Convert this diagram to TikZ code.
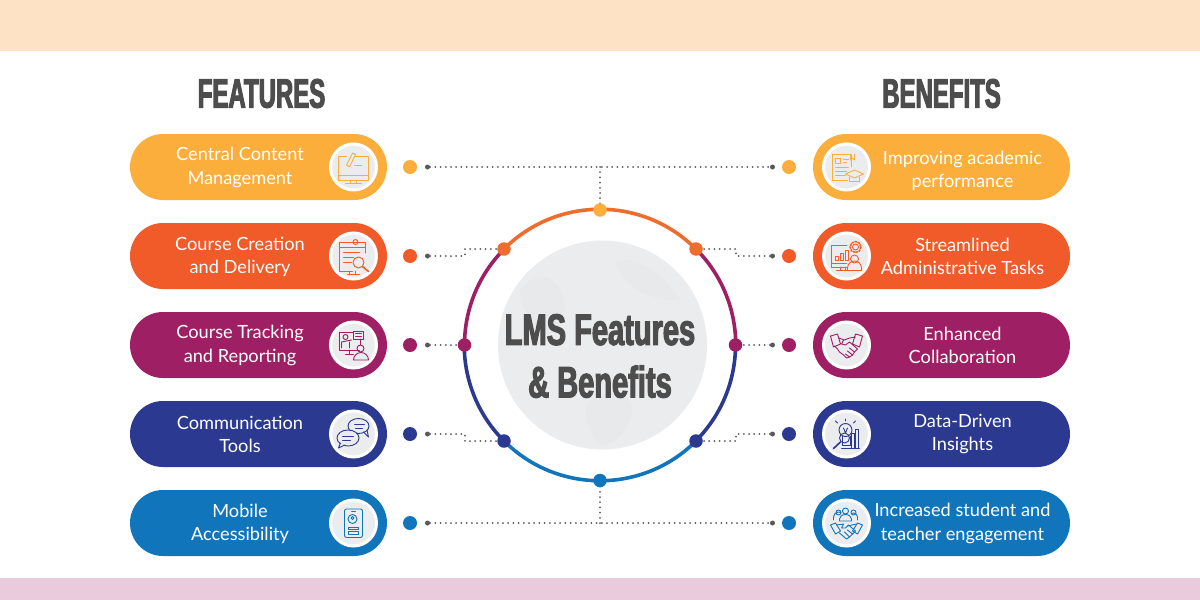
\documentclass[tikz,border=0pt]{standalone}
\usepackage{fontspec}
\usetikzlibrary{shapes.misc}
\setmainfont{Lato}
\newfontfamily\headfont[FakeStretch=0.585,FakeBold=2.6]{Liberation Sans Bold}
\newfontfamily\titlefont[FakeStretch=0.66,FakeBold=2.6]{Liberation Sans Bold}
\definecolor{cAmber}{HTML}{FBAE3C}
\definecolor{cOrange}{HTML}{F15A29}
\definecolor{cRing}{HTML}{EE6C2D}
\definecolor{cCrimson}{HTML}{9E1F63}
\definecolor{cNavy}{HTML}{2B3990}
\definecolor{cBlue}{HTML}{1175BC}
\definecolor{cHead}{HTML}{4D4D4D}
\definecolor{cDots}{HTML}{58595B}
\definecolor{cGlobe}{HTML}{EBECED}
\definecolor{cLand}{HTML}{E8E9EA}
\definecolor{cPeach}{HTML}{FEE2C6}
\definecolor{cPink}{HTML}{E9CBDD}
\begin{document}
\begin{tikzpicture}[x=1pt,y=-1pt,
    pill/.style={rounded rectangle,minimum width=257pt,minimum height=66pt,inner sep=0pt},
    pilltext/.style={text=white,align=center,font=\fontsize{18.2}{23.2}\selectfont,inner sep=0pt},
    icondisc/.style={circle,minimum size=46pt,inner sep=0pt,fill=cGlobe,draw=white,line width=3pt},
    bigdot/.style={circle,minimum size=14pt,inner sep=0pt,fill=#1},
    enddot/.style={circle,minimum size=5pt,inner sep=0pt,fill=cDots},
    dotline/.style={cDots,line width=2pt,line cap=round,dash pattern=on 0pt off 5.2pt},
    ringline/.style={line width=3.6pt},
    headtext/.style={text=cHead,font=\headfont\fontsize{41}{41}\selectfont,inner sep=0pt},
    ico/.style={line width=0.9pt,line join=round,line cap=round}]
    \useasboundingbox (0,0) rectangle (1200,600);
    \fill[cPeach] (0,0) rectangle (1200,51);
    \fill[cPink] (0,578) rectangle (1200,600);

    \node[headtext] (featureshead) at (261.5,93.5) {FEATURES};
    \node[headtext] (benefitshead) at (941.5,93.5) {BENEFITS};

    \node[pill,fill=cAmber] (f1) at (258.5,167) {};
    \node[pill,fill=cOrange] (f2) at (258.5,256) {};
    \node[pill,fill=cCrimson] (f3) at (258.5,345) {};
    \node[pill,fill=cNavy] (f4) at (258.5,434) {};
    \node[pill,fill=cBlue] (f5) at (258.5,523) {};
    \node[pill,fill=cAmber] (b1) at (941.5,167) {};
    \node[pill,fill=cOrange] (b2) at (941.5,256) {};
    \node[pill,fill=cCrimson] (b3) at (941.5,345) {};
    \node[pill,fill=cNavy] (b4) at (941.5,434) {};
    \node[pill,fill=cBlue] (b5) at (941.5,523) {};

    \node[pilltext] (f1t) at (240,167.5) {Central Content\\Management};
    \node[pilltext] (f2t) at (240,256.5) {Course Creation\\and Delivery};
    \node[pilltext] (f3t) at (240,345.5) {Course Tracking\\and Reporting};
    \node[pilltext] (f4t) at (240,434) {Communication\\Tools};
    \node[pilltext] (f5t) at (240,523.5) {Mobile\\Accessibility};
    \node[pilltext] (b1t) at (962.5,170.5) {Improving academic\\performance};
    \node[pilltext] (b2t) at (962.5,256) {Streamlined\\Administrative Tasks};
    \node[pilltext] (b3t) at (962.5,345) {Enhanced\\Collaboration};
    \node[pilltext] (b4t) at (962.5,434) {Data-Driven\\Insights};
    \node[pilltext] (b5t) at (962.5,523.5) {Increased student and\\teacher engagement};

    \node[icondisc] (fi1) at (353.5,167) {};
    \node[icondisc] (fi2) at (353.5,256) {};
    \node[icondisc] (fi3) at (353.5,345) {};
    \node[icondisc] (fi4) at (353.5,434) {};
    \node[icondisc] (fi5) at (353.5,523) {};
    \node[icondisc] (bi1) at (846.5,167) {};
    \node[icondisc] (bi2) at (846.5,256) {};
    \node[icondisc] (bi3) at (846.5,345) {};
    \node[icondisc] (bi4) at (846.5,434) {};
    \node[icondisc] (bi5) at (846.5,523) {};

    \begin{scope}[shift={(fi1)},ico,cAmber]
        \draw (-7,-11) -- (-15,-11) -- (-15,13) -- (15,13) -- (15,-11) -- (2,-11);
        \draw (-15,8) -- (15,8);
        \draw (-3,13) -- (-3,16) (3,13) -- (3,16) (-8,16.5) -- (8,16.5);
        \draw (-7,-2) -- (-1,-14) -- (2,-12.5) -- (-4,0) -- cycle;
        \draw (1,-2) -- (8,-2);
    \end{scope}

    \begin{scope}[shift={(fi2)},ico,cOrange]
        \draw (-1,15) -- (-14,15) -- (-14,-14) -- (12,-14) -- (12,-3);
        \draw (-14,-9) -- (12,-9);
        \draw (-10,-4) -- (6,-4) (-10,1) -- (0,1) (-10,6) -- (-2,6);
        \draw (-4,15) -- (-4,18) (2,15) -- (2,18) (-6,18.5) -- (6,18.5);
        \draw (5,6.5) circle (5.5);
        \draw[line width=1.6pt] (9,10.5) -- (15,15.5);
        \draw (2,-14) circle (2.5);
    \end{scope}

    \begin{scope}[shift={(fi3)},ico,cCrimson]
        \draw (0,-13) -- (-14,-13) -- (-14,5) -- (6,5);
        \draw (-4,5) -- (-4,9) (-8,9.5) -- (0,9.5);
        \draw (0,-14) rectangle (10,-6);
        \draw (2,-11.5) -- (8,-11.5) (2,-8.5) -- (8,-8.5);
        \draw (-8,-8) circle (2.5);
        \draw (-12,3) -- (-12,-3) -- (-2,-5) (-4,3) -- (-4,-3);
        \draw (7,3.5) circle (3.5);
        \draw (7,-6) -- (7,0);
        \draw (0,15) arc[start angle=180,end angle=360,radius=7.5] -- cycle;
    \end{scope}

    \begin{scope}[shift={(fi4)},ico,cNavy]
        \draw (5,-8) circle[x radius=10.5,y radius=7.5];
        \draw (10,-2) -- (15,3) -- (13.5,-4);
        \draw[fill=cGlobe] (-5.5,4) circle[x radius=11,y radius=8];
        \draw[fill=cGlobe] (-13,9) -- (-15,14) -- (-9,11);
        \draw (1,-10) -- (11,-10) (2,-6) -- (9,-6);
        \draw (-11,2) -- (0,2) (-11,6) -- (-3,6);
    \end{scope}

    \begin{scope}[shift={(fi5)},ico,cBlue]
        \draw[rounded corners=2pt] (-9,-14) rectangle (9,14.5);
        \draw (-2,-12) -- (2,-12);
        \draw (-1,-4) circle (4.5);
        \draw (-1,-5) circle (1.5);
        \draw (-5,4) rectangle (5,6.5);
        \draw (-5,8.5) rectangle (5,11);
    \end{scope}

    \begin{scope}[shift={(bi1)},ico,cAmber]
        \draw (1,13) -- (-14,13) -- (-14,-13) -- (5,-13) -- (5,0);
        \draw (-11,-9) rectangle (-6,-4);
        \draw (-3,-8) -- (2,-8) (-3,-5) -- (0,-5);
        \draw (-11,0) -- (2,0) (-11,4) -- (0,4) (-11,8) -- (-1,8);
        \draw[fill=cGlobe] (-1,7) -- (8,3) -- (17,7) -- (8,11) -- cycle;
        \draw (3,10) -- (3,14) -- (13,14) -- (13,10);
        \draw (4,-13) -- (4,-7) -- (6,-9) -- (8,-7) -- (8,-13);
    \end{scope}

    \begin{scope}[shift={(bi2)},ico,cOrange]
        \draw (0,-11) -- (-15,-11) -- (-15,11) -- (0,11);
        \draw (-15,7) -- (0,7);
        \draw (-6,11) -- (-6,14) (-1,11) -- (-1,14) (-10,14.5) -- (3,14.5);
        \draw (-11,4) rectangle (-8,0) (-6,4) rectangle (-3,-3) (-1,4) rectangle (2,-6);
        \draw (9,-9) circle (3);
        \draw[line width=1.5pt,dash pattern=on 1.6pt off 1.5pt] (9,-9) circle (5.5);
        \draw (8,3) circle (4);
        \draw (1,14.5) -- (1,12) arc[start angle=180,end angle=360,radius=7] -- (15,14.5) -- cycle;
    \end{scope}

    \begin{scope}[shift={(bi3)},ico,cCrimson]
        \draw (-16,-9) -- (-9,-11) -- (-6,-1) -- (-13,2) -- cycle;
        \draw (16,-9) -- (9,-11) -- (6,-1) -- (13,2) -- cycle;
        \draw (-8,-7) -- (-2,-5) -- (3,-7) -- (9,-8);
        \draw (-3,-5) -- (-5,-1) -- (-1,0) -- (3,-3) -- (11,4) -- (8,7) -- (6,10) -- (3,12) -- (0,13) -- (-3,10) -- (-7,7) -- (-9,4) -- (-12,1);
        \draw (8,7) -- (3,3) (6,10) -- (1,6) (3,12) -- (-1,9);
    \end{scope}

    \begin{scope}[shift={(bi4)},ico,cNavy]
        \draw (-1,-4) circle (6.5);
        \draw (-4,2) -- (-4,11) -- (4,11) -- (4,2);
        \draw (-1,-13) -- (-1,-15) (-9,-11) -- (-11,-13) (7,-11) -- (9,-13);
        \draw (-3,-6) -- (-1,-1) -- (1,-6);
        \draw (-2,4) circle (5);
        \draw[line width=1.6pt] (-6,8) -- (-13,14.5);
        \draw (5,14) rectangle (8,-1);
        \draw (9,14) rectangle (12,-5);
        \draw (-5,14) -- (13,14);
    \end{scope}

    \begin{scope}[shift={(bi5)},ico,cBlue]
        \draw (-1,-12) circle (3);
        \draw (-8,-10.5) circle (2.5) (7,-10.5) circle (2.5);
        \draw (-7,-2) -- (-7,-4) arc[start angle=180,end angle=360,x radius=6,y radius=4.5] -- (5,-2) -- cycle;
        \draw (-13,-3) -- (-13,-6) arc[start angle=180,end angle=300,radius=5];
        \draw (11,-3) -- (11,-6) arc[start angle=0,end angle=-120,radius=4];
        \draw (-16,2) -- (-11,0) -- (-6,8) -- (-11,11) -- cycle;
        \draw (16,2) -- (11,0) -- (6,8) -- (11,11) -- cycle;
        \draw (-10,2) -- (-3,1) -- (-5,5) -- (-1,5) -- (2,2) -- (9,8) -- (3,14) -- (0,16) -- (-7,10);
        \draw (1,3) -- (10,1);
        \draw (6,11) -- (1,7) (3,14) -- (-2,9);
    \end{scope}

    \node[circle,minimum size=209pt,inner sep=0pt,fill=cGlobe] (globe) at (602.5,345) {};
    \fill[cLand] (520,290) .. controls (550,255) and (575,300) .. (560,325) .. controls (548,345) and (525,330) .. (520,290);
    \fill[cLand] (590,400) .. controls (615,385) and (640,395) .. (630,420) .. controls (620,445) and (600,450) .. (595,440) .. controls (590,430) and (580,415) .. (590,400);
    \fill[cLand] (615,262) .. controls (640,255) and (665,275) .. (680,300) .. controls (650,300) and (625,290) .. (615,262);
    \node[headtext,align=center,font=\titlefont\fontsize{44}{52.5}\selectfont] (title) at (600,356) {LMS Features\\\& Benefits};

    \node[bigdot=cAmber] (fd1) at (410,167) {};
    \node[bigdot=cOrange] (fd2) at (410,256) {};
    \node[bigdot=cCrimson] (fd3) at (410,345) {};
    \node[bigdot=cNavy] (fd4) at (410,434) {};
    \node[bigdot=cBlue] (fd5) at (410,523) {};
    \node[bigdot=cAmber] (bd1) at (789,167) {};
    \node[bigdot=cOrange] (bd2) at (789,256) {};
    \node[bigdot=cCrimson] (bd3) at (789,345) {};
    \node[bigdot=cNavy] (bd4) at (789,434) {};
    \node[bigdot=cBlue] (bd5) at (789,523) {};

    \node[enddot] (fe1) at (427.5,167) {};
    \node[enddot] (fe2) at (427.5,256) {};
    \node[enddot] (fe3) at (427.5,345) {};
    \node[enddot] (fe4) at (427.5,434) {};
    \node[enddot] (fe5) at (427.5,523) {};
    \node[enddot] (be1) at (772.5,167) {};
    \node[enddot] (be2) at (772.5,256) {};
    \node[enddot] (be3) at (772.5,345) {};
    \node[enddot] (be4) at (772.5,434) {};
    \node[enddot] (be5) at (772.5,523) {};

    \coordinate (r1) at (600,210);
    \coordinate (r2) at (696,249);
    \coordinate (r3) at (735.5,345);
    \coordinate (r4) at (696,441);
    \coordinate (r5) at (600,480.5);
    \coordinate (r6) at (504,441);
    \coordinate (r7) at (464.5,345);
    \coordinate (r8) at (504,249);

    \coordinate (top) at (600,167);
    \coordinate (bottom) at (600,523);
    \coordinate (k1) at (465,256);
    \coordinate (k2) at (465,249);
    \coordinate (k3) at (736,256);
    \coordinate (k4) at (736,249);
    \coordinate (k5) at (465,434);
    \coordinate (k6) at (465,441);
    \coordinate (k7) at (736,434);
    \coordinate (k8) at (736,441);

    \draw[dotline] (fe1) -- (be1);
    \draw[dotline] (top) -- (r1);
    \draw[dotline] (fe2) -- (k1) -- (k2) -- (r8);
    \draw[dotline] (be2) -- (k3) -- (k4) -- (r2);
    \draw[dotline] (fe3) -- (r7);
    \draw[dotline] (be3) -- (r3);
    \draw[dotline] (fe4) -- (k5) -- (k6) -- (r6);
    \draw[dotline] (be4) -- (k7) -- (k8) -- (r4);
    \draw[dotline] (fe5) -- (be5);
    \draw[dotline] (bottom) -- (r5);

    \draw[ringline,cRing] (r8) arc[start angle=-135,end angle=-45,radius=135.7];
    \draw[ringline,cCrimson] (r2) arc[start angle=-45,end angle=0,radius=135.7];
    \draw[ringline,cNavy] (r3) arc[start angle=0,end angle=45,radius=135.7];
    \draw[ringline,cBlue] (r4) arc[start angle=45,end angle=135,radius=135.7];
    \draw[ringline,cNavy] (r6) arc[start angle=135,end angle=180,radius=135.7];
    \draw[ringline,cCrimson] (r7) arc[start angle=180,end angle=225,radius=135.7];

    \node[bigdot=cAmber,minimum size=13.5pt] (rd1) at (r1) {};
    \node[bigdot=cRing,minimum size=13.5pt] (rd2) at (r2) {};
    \node[bigdot=cCrimson,minimum size=13.5pt] (rd3) at (r3) {};
    \node[bigdot=cNavy,minimum size=13.5pt] (rd4) at (r4) {};
    \node[bigdot=cBlue,minimum size=13.5pt] (rd5) at (r5) {};
    \node[bigdot=cNavy,minimum size=13.5pt] (rd6) at (r6) {};
    \node[bigdot=cCrimson,minimum size=13.5pt] (rd7) at (r7) {};
    \node[bigdot=cRing,minimum size=13.5pt] (rd8) at (r8) {};
\end{tikzpicture}
\end{document}
